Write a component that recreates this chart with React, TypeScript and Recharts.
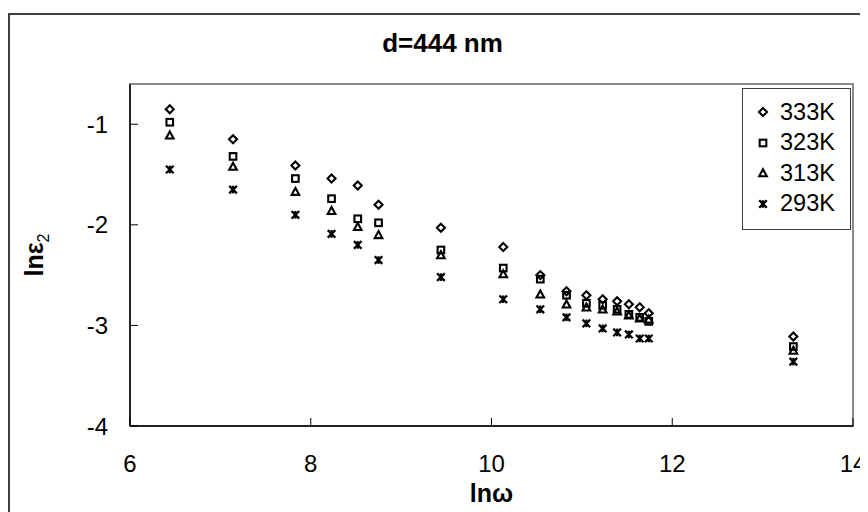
import React from "react";
import {
  ScatterChart,
  Scatter,
  XAxis,
  YAxis,
  ReferenceArea,
  Legend,
  Label,
} from "recharts";

// ln(omega), omega = 2*pi*f
const lnOmega = [6.44, 7.14, 7.83, 8.23, 8.52, 8.75, 9.44, 10.13, 10.54, 10.83, 11.05, 11.23, 11.39, 11.52, 11.64, 11.74, 13.34];

// ln(eps2) per temperature
const eps333 = [-0.85, -1.15, -1.41, -1.54, -1.61, -1.8, -2.03, -2.22, -2.5, -2.66, -2.7, -2.74, -2.76, -2.79, -2.82, -2.88, -3.11];
const eps323 = [-0.98, -1.32, -1.54, -1.74, -1.94, -1.98, -2.25, -2.43, -2.54, -2.7, -2.78, -2.8, -2.84, -2.89, -2.92, -2.96, -3.21];
const eps313 = [-1.11, -1.42, -1.67, -1.86, -2.02, -2.1, -2.3, -2.49, -2.69, -2.79, -2.82, -2.84, -2.86, -2.9, -2.93, -2.94, -3.25];
const eps293 = [-1.45, -1.65, -1.9, -2.09, -2.2, -2.35, -2.52, -2.74, -2.84, -2.92, -2.98, -3.03, -3.07, -3.09, -3.13, -3.13, -3.36];

const seriesNames = ["333K", "323K", "313K", "293K"];
const xTicks = [6, 8, 10, 12, 14];
const yTicks = [-4, -3, -2, -1];

const FONT = '"Liberation Sans", Arial, sans-serif';

type Kind = "diamond" | "square" | "triangle" | "star";

function Marker({ kind, cx, cy }: { kind: Kind; cx: number; cy: number }) {
  const sw = 2.1;
  if (kind === "diamond") {
    const r = 4;
    return (
      <polygon
        points={`${cx},${cy - r} ${cx + r},${cy} ${cx},${cy + r} ${cx - r},${cy}`}
        fill="none"
        stroke="#000"
        strokeWidth={sw}
      />
    );
  }
  if (kind === "square") {
    return (
      <rect x={cx - 3.3} y={cy - 3.3} width={6.6} height={6.6} fill="none" stroke="#000" strokeWidth={sw} />
    );
  }
  if (kind === "triangle") {
    return (
      <polygon
        points={`${cx},${cy - 3.8} ${cx + 3.8},${cy + 3.2} ${cx - 3.8},${cy + 3.2}`}
        fill="none"
        stroke="#000"
        strokeWidth={sw}
      />
    );
  }
  const r = 3.8;
  return (
    <g stroke="#000" strokeWidth={2.3}>
      <line x1={cx - r} y1={cy - r} x2={cx + r} y2={cy + r} />
      <line x1={cx - r} y1={cy + r} x2={cx + r} y2={cy - r} />
      <line x1={cx} y1={cy - r} x2={cx} y2={cy + r} />
    </g>
  );
}

const series: { name: string; values: number[]; kind: Kind }[] = [
  { name: seriesNames[0], values: eps333, kind: "diamond" },
  { name: seriesNames[1], values: eps323, kind: "square" },
  { name: seriesNames[2], values: eps313, kind: "triangle" },
  { name: seriesNames[3], values: eps293, kind: "star" },
];

function LegendBox() {
  return (
    <div
      style={{
        width: 109,
        height: 142,
        boxSizing: "border-box",
        border: "1.5px solid #404040",
        background: "#fff",
        paddingTop: 8,
        fontFamily: FONT,
        fontSize: 23.5,
        color: "#000",
      }}
    >
      {series.map((s) => (
        <div key={s.name} style={{ height: 30.5, display: "flex", alignItems: "center" }}>
          <svg width={37} height={30} style={{ flex: "none" }}>
            <Marker kind={s.kind} cx={20} cy={15} />
          </svg>
          <span>{s.name}</span>
        </div>
      ))}
    </div>
  );
}

export default function App() {
  return (
    <div
      style={{
        position: "relative",
        width: 860,
        height: 504,
        overflow: "hidden",
        fontFamily: FONT,
        background: "#fff",
      }}
    >
      <div
        style={{
          position: "absolute",
          left: 0,
          top: 5,
          width: 900,
          height: 600,
          border: "2px solid #404040",
        }}
      />
      <div
        style={{
          position: "absolute",
          left: 0,
          top: 22,
          width: 869,
          textAlign: "center",
          fontWeight: "bold",
          fontSize: 26,
          lineHeight: "26px",
          color: "#000",
        }}
      >
        d=444 nm
      </div>
      <div style={{ position: "absolute", left: 0, top: 0 }}>
        <ScatterChart
          width={860}
          height={504}
          margin={{ top: 76, right: 15, bottom: 0, left: 0 }}
        >
          <ReferenceArea
            x1={6}
            x2={14}
            y1={-4}
            y2={-0.6}
            fill="none"
            stroke="#8a8a8a"
            strokeWidth={2}
          />
          <XAxis
            type="number"
            dataKey="x"
            domain={[6, 14]}
            ticks={xTicks}
            height={86}
            tickSize={-8}
            tickMargin={37}
            axisLine={{ stroke: "#000", strokeWidth: 1.5 }}
            tickLine={{ stroke: "#000", strokeWidth: 1 }}
            tick={{ fill: "#000", fontSize: 24, fontFamily: FONT }}
          >
            <Label
              content={(p: any) => {
                const vb = p.viewBox;
                return (
                  <text
                    x={vb.x + vb.width / 2}
                    y={vb.y + 76}
                    textAnchor="middle"
                    fontFamily={FONT}
                    fontSize={25}
                    fontWeight="bold"
                    fill="#000"
                  >
                    lnω
                  </text>
                );
              }}
            />
          </XAxis>
          <YAxis
            type="number"
            dataKey="y"
            domain={[-4, -0.6]}
            ticks={yTicks}
            width={122}
            tickSize={-8}
            tickMargin={30}
            axisLine={{ stroke: "#000", strokeWidth: 1.5 }}
            tickLine={{ stroke: "#000", strokeWidth: 1 }}
            tick={{ fill: "#000", fontSize: 24, fontFamily: FONT }}
          >
            <Label
              content={(p: any) => {
                const vb = p.viewBox;
                const cx = 35;
                const cy = vb.y + vb.height / 2;
                return (
                  <text
                    x={cx}
                    y={cy}
                    transform={`rotate(-90 ${cx} ${cy})`}
                    textAnchor="middle"
                    fontFamily={FONT}
                    fontSize={25}
                    fontWeight="bold"
                    fill="#000"
                  >
                    lnε
                    <tspan dy={6} fontSize={16} fontWeight="normal">
                      2
                    </tspan>
                  </text>
                );
              }}
            />
          </YAxis>
          {series.map((s) => (
            <Scatter
              key={s.name}
              name={s.name}
              data={lnOmega.map((x, i) => ({ x, y: s.values[i] }))}
              isAnimationActive={false}
              shape={(p: any) => <Marker kind={s.kind} cx={p.cx} cy={p.cy} />}
            />
          ))}
          <Legend
            layout="vertical"
            align="center"
            verticalAlign="middle"
            content={() => <LegendBox />}
            wrapperStyle={{ left: 734, top: 80, width: 109, height: 142 }}
          />
        </ScatterChart>
      </div>
    </div>
  );
}
